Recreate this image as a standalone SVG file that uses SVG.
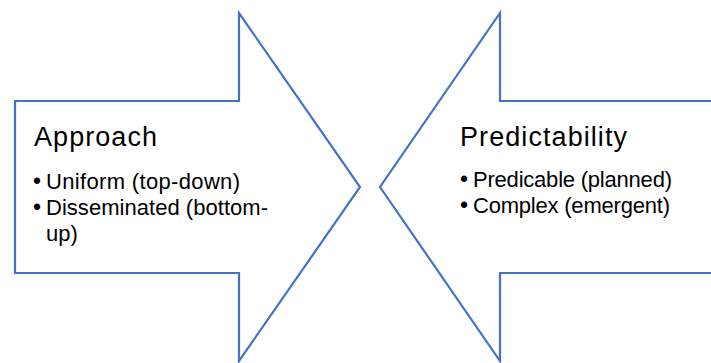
<svg xmlns="http://www.w3.org/2000/svg" width="711" height="363" viewBox="0 0 711 363">
<style>
.arrow{fill:#ffffff;stroke:#4472C4;stroke-width:2.2;stroke-linejoin:miter}
.title{font-family:"Liberation Sans",Arial,sans-serif;font-size:27px;fill:#000000}
.item{font-family:"Liberation Sans",Arial,sans-serif;font-size:22px;fill:#000000}
.bullet{font-family:"Liberation Sans",Arial,sans-serif;font-size:23px;fill:#000000}
</style>
<rect x="0" y="0" width="711" height="363" fill="#ffffff"/>
<g id="approach">
<path class="arrow" d="M15,101 H239 V13 L360,187 L239,361 V273 H15 Z"/>
<text class="title" x="34" y="146" textLength="123">Approach</text>
<text class="bullet" x="33" y="189">•</text>
<text class="item" x="46" y="189" textLength="194">Uniform (top-down)</text>
<text class="bullet" x="33" y="215">•</text>
<text class="item" x="46" y="215" textLength="222">Disseminated (bottom-</text>
<text class="item" x="46" y="241">up)</text>
</g>
<g id="predictability">
<path class="arrow" d="M714,101 H500 V13 L380,187 L500,361 V273 H714"/>
<text class="title" x="460" y="146" textLength="167">Predictability</text>
<text class="bullet" x="460" y="187">•</text>
<text class="item" x="473" y="187" textLength="199">Predicable (planned)</text>
<text class="bullet" x="460" y="213">•</text>
<text class="item" x="473" y="213" textLength="197">Complex (emergent)</text>
</g>
<g id="connectors"></g>
</svg>
